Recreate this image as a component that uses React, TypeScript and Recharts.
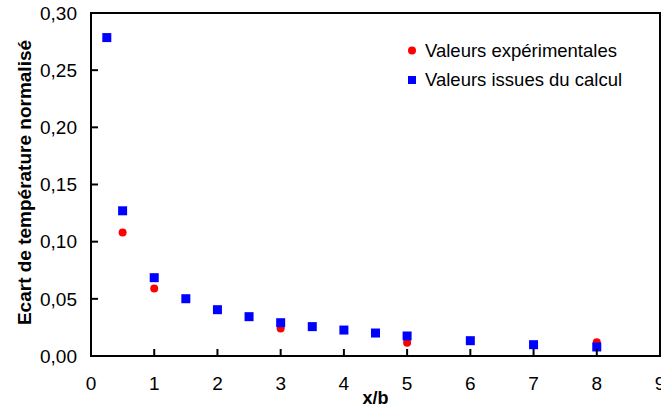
import React from "react";
import {
  ScatterChart,
  Scatter,
  XAxis,
  YAxis,
  Legend,
  ReferenceArea,
} from "recharts";

// valeurs
const expX = [0.5, 1, 3, 5, 8];
const expY = [0.108, 0.059, 0.024, 0.0115, 0.012];

const calcX = [0.25, 0.5, 1, 1.5, 2, 2.5, 3, 3.5, 4, 4.5, 5, 6, 7, 8];
const calcY = [
  0.2785, 0.127, 0.0685, 0.0501, 0.0405, 0.0344, 0.0291, 0.0257, 0.0227,
  0.0201, 0.0175, 0.0134, 0.0099, 0.0079,
];

const xTicks = [0, 1, 2, 3, 4, 5, 6, 7, 8, 9];
const yTicks = [0, 0.05, 0.1, 0.15, 0.2, 0.25, 0.3];

const FONT = "'Liberation Sans', Arial, sans-serif";

const experimental = expX.map((x, i) => ({ x, y: expY[i] }));
const calcul = calcX.map((x, i) => ({ x, y: calcY[i] }));

const fmt = (v: number) => v.toFixed(2).replace(".", ",");

const XTick = (props: any) => {
  const { x, y, payload } = props;
  return (
    <g>
      {payload.value !== 0 && (
        <line x1={x} x2={x} y1={y - 21} y2={y - 28} stroke="#000" strokeWidth={2} />
      )}
      <text x={x} y={y} dy="0.71em" textAnchor="middle" fontSize={19} fontFamily={FONT} fill="#000">
        {payload.value}
      </text>
    </g>
  );
};

const YTick = (props: any) => {
  const { x, y, payload } = props;
  return (
    <g>
      <line x1={x + 14} x2={x + 21} y1={y} y2={y} stroke="#000" strokeWidth={2} />
      <text x={x} y={y} dy="0.355em" textAnchor="end" fontSize={19} fontFamily={FONT} fill="#000">
        {fmt(payload.value)}
      </text>
    </g>
  );
};

const LegendBox = (props: any) => {
  const items = props.payload || [];
  return (
    <svg width={260} height={64} style={{ display: "block" }}>
      {items.map((it: any, i: number) => {
        const cy = 20.5 + i * 29.5;
        return (
          <g key={it.value}>
            {i === 0 ? (
              <circle cx={12} cy={cy} r={4} fill={it.color} />
            ) : (
              <rect x={8} y={cy - 4} width={8} height={8} fill={it.color} />
            )}
            <text x={25} y={cy + 6.3} fontSize={18.5} fontFamily={FONT} fill="#000">
              {it.value}
            </text>
          </g>
        );
      })}
    </svg>
  );
};

export default function App() {
  return (
    <div style={{ position: "absolute", left: 0, top: 0, background: "#fff" }}>
      <ScatterChart
        width={661}
        height={407}
        margin={{ top: 13, right: 1, bottom: 0, left: 0 }}
      >
        <XAxis
          type="number"
          dataKey="x"
          domain={[0, 9]}
          ticks={xTicks}
          interval={0}
          height={51}
          tickSize={0}
          tickMargin={21}
          tickLine={false}
          tick={<XTick />}
          axisLine={{ stroke: "#000", strokeWidth: 2 }}
          label={{
            value: "x/b",
            position: "insideBottom",
            offset: 3,
            fontSize: 18,
            fontWeight: "bold",
            fontFamily: FONT,
            fill: "#000",
          }}
        />
        <YAxis
          type="number"
          dataKey="y"
          domain={[0, 0.3]}
          ticks={yTicks}
          interval={0}
          width={91}
          tickSize={0}
          tickMargin={14}
          tickLine={false}
          tick={<YTick />}
          axisLine={{ stroke: "#000", strokeWidth: 2 }}
          label={{
            content: () => (
              <text
                x={31}
                y={182.5}
                transform="rotate(-90, 31, 182.5)"
                textAnchor="middle"
                fontSize={19}
                fontWeight="bold"
                fontFamily={FONT}
                fill="#000"
              >
                Ecart de température normalisé
              </text>
            ),
          }}
        />
        <ReferenceArea
          x1={0}
          x2={9}
          y1={0}
          y2={0.3}
          fill="none"
          stroke="#000"
          strokeWidth={2}
          ifOverflow="visible"
        />
        <Legend
          layout="vertical"
          align="center"
          verticalAlign="middle"
          content={<LegendBox />}
          wrapperStyle={{ left: 400, top: 30, width: 260 }}
        />
        <Scatter
          name="Valeurs expérimentales"
          data={experimental}
          fill="#ff0000"
          isAnimationActive={false}
          shape={(p: any) => <circle cx={p.cx} cy={p.cy} r={4} fill="#ff0000" />}
        />
        <Scatter
          name="Valeurs issues du calcul"
          data={calcul}
          fill="#0000ff"
          isAnimationActive={false}
          shape={(p: any) => (
            <rect x={p.cx - 4.5} y={p.cy - 4.5} width={9} height={9} fill="#0000ff" />
          )}
        />
      </ScatterChart>
    </div>
  );
}
